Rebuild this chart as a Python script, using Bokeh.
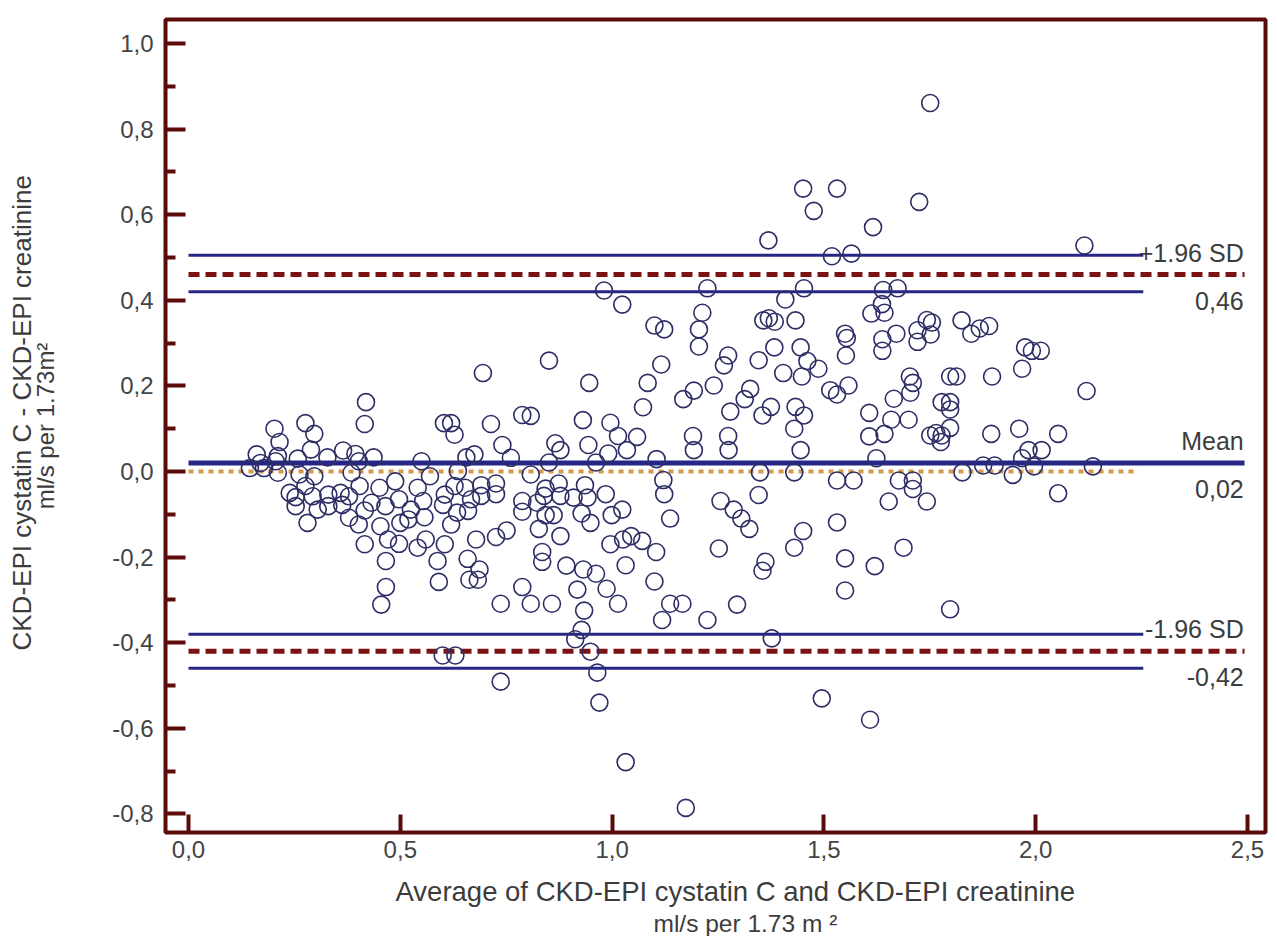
from bokeh.plotting import figure
from bokeh.models import FixedTicker, CustomJSTickFormatter, Label, Title
from bokeh.embed import file_html
from bokeh.resources import INLINE

# ---- data ----
avg = [
    # upper right region
    1.751, 1.451, 1.531, 1.476, 1.725, 1.616, 1.369, 1.519, 1.565, 2.115,
    1.453, 1.409, 1.640, 1.674, 1.637, 1.612, 1.643, 1.357, 1.370, 1.384,
    1.433, 1.550, 1.554, 1.552, 1.383, 1.445, 1.461, 1.487, 1.404, 1.448,
    1.346, 1.515, 1.531, 1.558, 1.375, 1.355, 1.433, 1.453, 1.430, 1.445,
    1.430, 1.349, 1.346, 1.362, 1.355, 1.377, 1.451, 1.430, 1.531, 1.550,
    1.550, 1.620, 1.688, 1.798, 1.495, 1.609, 1.531, 1.570, 1.624, 1.607,
    1.607, 1.643, 1.659, 1.665, 1.703, 1.710, 1.704, 1.700, 1.638, 1.638,
    1.671, 1.721, 1.743, 1.755, 1.721, 1.752, 1.825, 1.848, 1.868, 1.890,
    1.798, 1.813, 1.897, 1.778, 1.798, 1.798, 1.751, 1.765, 1.778, 1.798,
    1.776, 1.895, 1.961, 2.053, 1.968, 1.975, 1.991, 2.012, 2.120, 1.983,
    2.014, 1.968, 2.053, 1.827, 1.876, 1.903, 1.946, 1.996, 2.135, 1.677,
    1.710, 1.710, 1.653, 1.743,
    # middle region
    0.981, 1.024, 1.225, 1.213, 1.205, 1.205, 1.100, 1.123, 1.116, 1.084,
    1.073, 1.274, 1.264, 1.240, 1.193, 1.168, 1.279, 1.326, 1.313, 0.695,
    0.851, 0.946, 0.714, 0.788, 0.808, 0.931, 0.996, 1.014, 1.059, 1.035,
    0.991, 0.944, 1.191, 1.193, 1.274, 1.275, 1.105, 0.741, 0.761, 0.866,
    0.878, 0.851, 0.962, 0.808, 1.121, 1.123, 1.137, 1.256, 1.287, 1.305,
    1.324, 1.252, 1.295, 0.726, 0.726, 0.691, 0.691, 0.843, 0.839, 0.874,
    0.878, 0.909, 0.936, 0.942, 0.985, 0.788, 0.788, 0.823, 0.827, 0.843,
    0.862, 0.928, 0.949, 0.999, 1.024, 0.878, 0.835, 0.835, 0.751, 0.726,
    0.679, 0.659, 0.687, 0.683, 0.663, 0.996, 1.026, 1.045, 1.071, 1.104,
    1.032, 0.892, 0.932, 0.962, 1.100, 0.788, 0.918, 0.987, 1.014, 0.737,
    0.808, 0.858, 0.934, 1.137, 1.166, 1.118, 1.225, 0.928, 0.913, 0.949,
    0.965, 0.737, 0.970, 1.032, 1.174,
    # left region
    0.419, 0.416, 0.203, 0.215, 0.276, 0.297, 0.289, 0.161, 0.211, 0.206,
    0.145, 0.178, 0.211, 0.258, 0.328, 0.365, 0.394, 0.437, 0.402, 0.550,
    0.620, 0.603, 0.628, 0.656, 0.675, 0.262, 0.297, 0.239, 0.253, 0.253,
    0.276, 0.293, 0.305, 0.330, 0.330, 0.359, 0.379, 0.363, 0.385, 0.404,
    0.379, 0.402, 0.416, 0.281, 0.432, 0.451, 0.465, 0.453, 0.471, 0.416,
    0.466, 0.466, 0.455, 0.488, 0.497, 0.500, 0.497, 0.525, 0.519, 0.541,
    0.554, 0.557, 0.560, 0.541, 0.570, 0.588, 0.591, 0.605, 0.605, 0.601,
    0.620, 0.636, 0.628, 0.653, 0.667, 0.660, 0.634, 0.170, 0.600, 0.630,
]
diff = [
    0.861, 0.661, 0.661, 0.609, 0.630, 0.571, 0.540, 0.503, 0.509, 0.528,
    0.428, 0.402, 0.424, 0.428, 0.391, 0.369, 0.371, 0.353, 0.358, 0.350,
    0.353, 0.322, 0.312, 0.271, 0.290, 0.290, 0.258, 0.240, 0.230, 0.222,
    0.260, 0.190, 0.180, 0.201, 0.151, 0.131, 0.151, 0.131, 0.100, 0.050,
    -0.002, -0.002, -0.055, -0.211, -0.232, -0.390, -0.139, -0.178, -0.119, -0.203,
    -0.278, -0.221, -0.178, -0.322, -0.530, -0.580, -0.021, -0.021, 0.031, 0.137,
    0.082, 0.088, 0.121, 0.170, 0.222, 0.207, 0.184, 0.121, 0.309, 0.282,
    0.322, 0.330, 0.354, 0.348, 0.303, 0.320, 0.353, 0.322, 0.334, 0.340,
    0.222, 0.222, 0.222, 0.162, 0.162, 0.145, 0.084, 0.090, 0.084, 0.102,
    0.069, 0.088, 0.100, 0.088, 0.240, 0.290, 0.282, 0.282, 0.188, 0.050,
    0.050, 0.031, -0.051, -0.002, 0.014, 0.014, -0.008, 0.012, 0.012, -0.021,
    -0.021, -0.041, -0.070, -0.070,
    0.423, 0.390, 0.428, 0.371, 0.332, 0.292, 0.341, 0.332, 0.250, 0.207,
    0.150, 0.271, 0.248, 0.201, 0.189, 0.169, 0.140, 0.193, 0.169, 0.230,
    0.259, 0.207, 0.111, 0.132, 0.130, 0.120, 0.114, 0.083, 0.081, 0.050,
    0.042, 0.062, 0.083, 0.050, 0.083, 0.050, 0.029, 0.062, 0.032, 0.066,
    0.050, 0.021, 0.021, -0.007, -0.020, -0.053, -0.110, -0.069, -0.089, -0.110,
    -0.134, -0.180, -0.311, -0.028, -0.053, -0.032, -0.057, -0.040, -0.057, -0.028,
    -0.057, -0.061, -0.032, -0.061, -0.053, -0.069, -0.094, -0.073, -0.134, -0.102,
    -0.102, -0.098, -0.120, -0.102, -0.089, -0.151, -0.188, -0.211, -0.138, -0.153,
    -0.159, -0.204, -0.229, -0.253, -0.253, -0.170, -0.159, -0.151, -0.162, -0.188,
    -0.219, -0.220, -0.229, -0.239, -0.257, -0.270, -0.276, -0.274, -0.309, -0.309,
    -0.309, -0.309, -0.325, -0.309, -0.309, -0.347, -0.347, -0.370, -0.392, -0.421,
    -0.470, -0.491, -0.540, -0.679, -0.786,
    0.162, 0.111, 0.100, 0.069, 0.113, 0.088, 0.051, 0.040, 0.036, 0.024,
    0.008, 0.008, -0.003, 0.030, 0.033, 0.049, 0.041, 0.033, 0.024, 0.024,
    0.113, 0.113, 0.086, 0.033, 0.040, -0.007, -0.011, -0.050, -0.060, -0.081,
    -0.034, -0.058, -0.089, -0.081, -0.054, -0.050, -0.058, -0.078, -0.003, -0.034,
    -0.108, -0.124, -0.091, -0.120, -0.073, -0.038, -0.081, -0.128, -0.159, -0.170,
    -0.209, -0.270, -0.311, -0.023, -0.065, -0.120, -0.169, -0.089, -0.112, -0.038,
    -0.069, -0.107, -0.159, -0.178, -0.011, -0.209, -0.258, -0.170, -0.054, -0.078,
    -0.124, 0.001, -0.034, -0.038, -0.065, -0.092, -0.096, 0.020, -0.430, -0.430,
]

mean_diff = 0.02
loa_upper = 0.46
loa_lower = -0.42
upper_ci = [0.42, 0.505]
lower_ci = [-0.46, -0.38]
equality = 0.0

x_ticks = [0.0, 0.5, 1.0, 1.5, 2.0, 2.5]
y_ticks = [-0.8, -0.6, -0.4, -0.2, 0.0, 0.2, 0.4, 0.6, 0.8, 1.0]
y_minor = [-0.7, -0.5, -0.3, -0.1, 0.1, 0.3, 0.5, 0.7, 0.9]

labels_upper = ["+1.96 SD", "0,46"]
labels_mean = ["Mean", "0,02"]
labels_lower = ["-1.96 SD", "-0,42"]

x_title = ["Average of CKD-EPI cystatin C and CKD-EPI creatinine", "ml/s per 1.73 m \u00b2"]
y_title = ["CKD-EPI cystatin C - CKD-EPI creatinine", "ml/s per 1.73m\u00b2"]

# ---- styling ----
MAROON = "#5c0b0b"
BLUE = "#262686"
DASH_RED = "#7a1414"
ORANGE = "#d49a4c"
PT = "#2e2e66"
TXT = "#3c3c3c"
FONT = "Liberation Sans"

ci_end = 2.254
mean_end = 2.493
eq_end = 2.243
lab_x = 2.491

p = figure(width=1269, height=936, x_range=(-0.0543, 2.5425), y_range=(-0.8435, 1.0561),
           output_backend="svg", toolbar_location=None,
           min_border_left=165, min_border_right=4, min_border_top=19, min_border_bottom=104,
           background_fill_color="white", border_fill_color="white")
p.outline_line_color = MAROON
p.outline_line_width = 4
p.grid.visible = False

fmt = CustomJSTickFormatter(code="return tick.toFixed(1).replace('.', ',');")

xa = p.xaxis[0]
xa.ticker = FixedTicker(ticks=x_ticks)
xa.formatter = fmt
xa.axis_line_color = None
xa.major_tick_in = 18
xa.major_tick_out = 0
xa.minor_tick_in = 0
xa.minor_tick_out = 0
xa.major_tick_line_color = MAROON
xa.major_tick_line_width = 4
xa.major_label_text_font = FONT
xa.major_label_text_font_size = "24px"
xa.major_label_text_color = "#444444"
xa.major_label_standoff = 8

ya = p.yaxis[0]
ya.ticker = FixedTicker(ticks=y_ticks, minor_ticks=y_minor)
ya.formatter = fmt
ya.axis_line_color = None
ya.major_tick_in = 20
ya.major_tick_out = 0
ya.minor_tick_in = 10
ya.minor_tick_out = 0
ya.major_tick_line_color = MAROON
ya.minor_tick_line_color = MAROON
ya.major_tick_line_width = 4
ya.minor_tick_line_width = 4
ya.major_label_text_font = FONT
ya.major_label_text_font_size = "24px"
ya.major_label_text_color = "#444444"
ya.major_label_standoff = 12
# second line of the y title is the axis label, first line a Title further out
ya.axis_label = y_title[1]
ya.axis_label_text_font = FONT
ya.axis_label_text_font_size = "24px"
ya.axis_label_text_font_style = "normal"
ya.axis_label_text_color = TXT
ya.axis_label_standoff = 50

def title(text, standoff, size, align="center", offset=0):
    return Title(text=text, align=align, offset=offset, text_font=FONT, text_font_size=size,
                 text_font_style="normal", text_color=TXT, standoff=standoff)

p.add_layout(title(y_title[0], -14, "26px", align="left", offset=182), "left")
p.add_layout(title(x_title[0], 27, "27.5px", align="left", offset=230), "below")
p.add_layout(title(x_title[1], -26, "24.5px", align="left", offset=488), "below")

# reference lines
p.line([0, eq_end], [equality, equality], line_color=ORANGE, line_width=4, line_dash="5 5")
for v in upper_ci + lower_ci:
    p.line([0, ci_end], [v, v], line_color=BLUE, line_width=3)
p.line([0, mean_end], [mean_diff, mean_diff], line_color=BLUE, line_width=5)
for v in (loa_upper, loa_lower):
    p.line([0, mean_end], [v, v], line_color=DASH_RED, line_width=5, line_dash="11 6")

p.scatter(avg, diff, marker="circle", size=17, fill_color=None, line_color=PT, line_width=1.6)

for val, (top, bottom) in ((loa_upper, labels_upper), (mean_diff, labels_mean), (loa_lower, labels_lower)):
    for txt, off in ((top, 22), (bottom, -26)):
        p.add_layout(Label(x=lab_x, y=val, text=txt, text_align="right", text_baseline="middle",
                           y_offset=off, text_font=FONT, text_font_size="25px", text_color=TXT))

open("out.html", "w").write(file_html(p, INLINE))
